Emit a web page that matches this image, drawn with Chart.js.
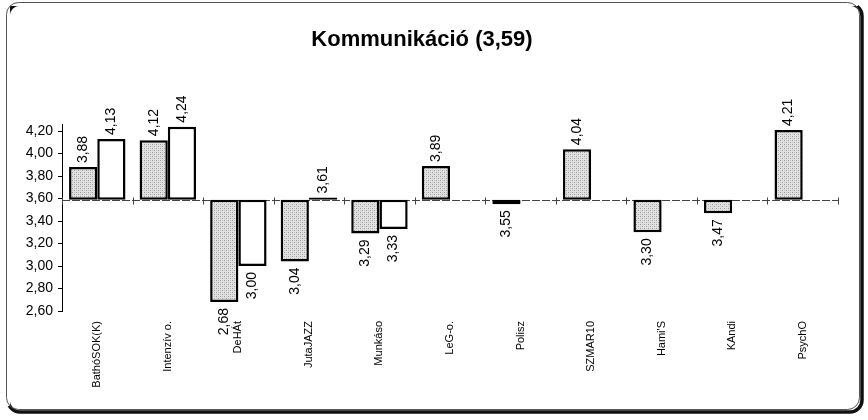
<!DOCTYPE html>
<html>
<head>
<meta charset="utf-8">
<script src="https://cdn.jsdelivr.net/npm/chart.js@4/dist/chart.umd.min.js"></script>
<style>
	html, body { margin: 0; padding: 0; background: #fff; }
	#wrap { width: 868px; height: 420px; }
</style>
</head>
<body>
<div id="wrap"><canvas id="chart" width="868" height="420"></canvas></div>
<script>
// data
var categories = ['BathóSOK(K)', 'Intenzív o.', 'DeHÁt', 'JutaJAZZ', 'Munkáso', 'LeG-o.', 'Polisz', 'SZMAR10', "Hami'S", 'KAndi', 'PsychO']
var series1 = [3.88, 4.12, 2.68, 3.04, 3.29, 3.89, 3.55, 4.04, 3.30, 3.47, 4.21]
var series2 = [4.13, 4.24, 3.00, 3.61, 3.33, null, null, null, null, null, null]
var baseValue = 3.59
var yTicks = [2.6, 2.8, 3.0, 3.2, 3.4, 3.6, 3.8, 4.0, 4.2]

function fmt (v) {
	return v.toFixed(2).replace('.', ',')
}

// dotted gray fill like the scan
function dotPattern () {
	var c = document.createElement('canvas')
	c.width = 4
	c.height = 4
	var g = c.getContext('2d')
	g.fillStyle = '#e2e2e2'
	g.fillRect(0, 0, 4, 4)
	g.fillStyle = '#9a9a9a'
	g.fillRect(0, 0, 1, 1)
	g.fillRect(2, 2, 1, 1)
	g.fillStyle = '#c4c4c4'
	g.fillRect(2, 0, 1, 1)
	g.fillRect(0, 2, 1, 1)
	return g.createPattern(c, 'repeat')
}

function floating (arr) {
	return arr.map(v => v == null ? null : [baseValue, v])
}

// rounded frame with shadow on right/bottom
var framePlugin = {
	id: 'frame',
	beforeDraw: function (chart) {
		var ctx = chart.ctx
		ctx.save()
		ctx.fillStyle = '#fff'
		ctx.fillRect(0, 0, chart.width, chart.height)
		ctx.strokeStyle = '#111'
		ctx.lineWidth = 3.5
		ctx.beginPath()
		ctx.roundRect(8, 4, 854, 408, 12)
		ctx.stroke()
		ctx.fillStyle = '#fff'
		ctx.fillRect(6, 2, 852, 4)
		ctx.fillRect(6, 2, 4, 404)
		ctx.lineWidth = 1
		ctx.strokeStyle = '#555'
		ctx.beginPath()
		ctx.roundRect(6.5, 2.5, 853, 407, 12)
		ctx.stroke()
		ctx.restore()
	}
}

// horizontal axis at the base value with category ticks
var baseLinePlugin = {
	id: 'baseLine',
	beforeDatasetsDraw: function (chart) {
		var ctx = chart.ctx
		var x = chart.scales.x
		var y = chart.scales.y
		var yy = Math.round(y.getPixelForValue(baseValue)) + 0.5
		ctx.save()
		ctx.strokeStyle = '#444'
		ctx.lineWidth = 1
		ctx.setLineDash([8, 2])
		ctx.beginPath()
		ctx.moveTo(x.left, yy)
		ctx.lineTo(x.right, yy)
		ctx.stroke()
		ctx.setLineDash([])
		var step = (x.right - x.left) / categories.length
		ctx.beginPath()
		for (var i = 0; i <= categories.length; i++) {
			var xx = Math.round(x.left + step * i) + 0.5
			ctx.moveTo(xx, yy - 3)
			ctx.lineTo(xx, yy + 4)
		}
		ctx.stroke()
		ctx.restore()
	}
}

// rotated value labels
var valueLabelPlugin = {
	id: 'valueLabels',
	afterDatasetsDraw: function (chart) {
		var ctx = chart.ctx
		ctx.save()
		ctx.font = '14px "Liberation Sans", Arial, sans-serif'
		ctx.fillStyle = '#000'
		ctx.textBaseline = 'middle'
		chart.data.datasets.forEach((ds, di) => {
			var meta = chart.getDatasetMeta(di)
			var raw = di === 0 ? series1 : series2
			meta.data.forEach((bar, i) => {
				var v = raw[i]
				if (v == null) return
				var top = Math.min(bar.y, bar.base)
				var bottom = Math.max(bar.y, bar.base)
				ctx.save()
				if (v >= baseValue) {
					ctx.translate(bar.x, top - 4)
					ctx.rotate(-Math.PI / 2)
					ctx.textAlign = 'left'
				} else {
					ctx.translate(bar.x, bottom + 6)
					ctx.rotate(-Math.PI / 2)
					ctx.textAlign = 'right'
				}
				ctx.fillText(fmt(v), 0, 0)
				ctx.restore()
			})
		})
		ctx.restore()
	}
}

var pattern = dotPattern()

var chart = new Chart(document.getElementById('chart').getContext('2d'), {
	type: 'bar',
	data: {
		labels: categories,
		datasets: [
			{
				label: 'A',
				data: floating(series1),
				backgroundColor: pattern,
				borderColor: '#000',
				borderWidth: 2.5,
				borderSkipped: false
			},
			{
				label: 'B',
				data: floating(series2),
				backgroundColor: '#fff',
				borderColor: '#000',
				borderWidth: 2.5,
				borderSkipped: false
			}
		]
	},
	options: {
		responsive: false,
		animation: false,
		events: [],
		layout: {
			padding: { left: 6, right: 30, top: 0, bottom: 9 }
		},
		datasets: {
			bar: {
				categoryPercentage: 0.8,
				barPercentage: 1.0
			}
		},
		plugins: {
			legend: { display: false },
			tooltip: { enabled: false },
			title: {
				display: true,
				text: 'Kommunikáció (3,59)',
				color: '#000',
				font: { family: '"Liberation Sans", Arial, sans-serif', size: 22, weight: 'bold', lineHeight: 1.2 },
				padding: { top: 27, bottom: 71 }
			}
		},
		scales: {
			x: {
				grid: { display: false, drawTicks: false },
				border: { display: false },
				ticks: {
					color: '#000',
					font: { family: '"Liberation Sans", Arial, sans-serif', size: 11 },
					minRotation: 90,
					maxRotation: 90,
					autoSkip: false,
					padding: 10
				},
				afterFit: function (scale) {
					scale.height = 100
				}
			},
			y: {
				min: 2.6,
				max: 4.26,
				grid: {
					drawOnChartArea: false,
					drawTicks: true,
					tickLength: 4,
					color: '#000'
				},
				border: { display: true, color: '#000', width: 1 },
				ticks: {
					color: '#000',
					font: { family: '"Liberation Sans", Arial, sans-serif', size: 14 },
					padding: 5,
					callback: function (v) { return fmt(v) }
				},
				afterBuildTicks: function (scale) {
					scale.ticks = yTicks.map(v => ({ value: v }))
				},
				afterFit: function (scale) {
					scale.width = 56
				}
			}
		}
	},
	plugins: [framePlugin, baseLinePlugin, valueLabelPlugin]
})
</script>
</body>
</html>
